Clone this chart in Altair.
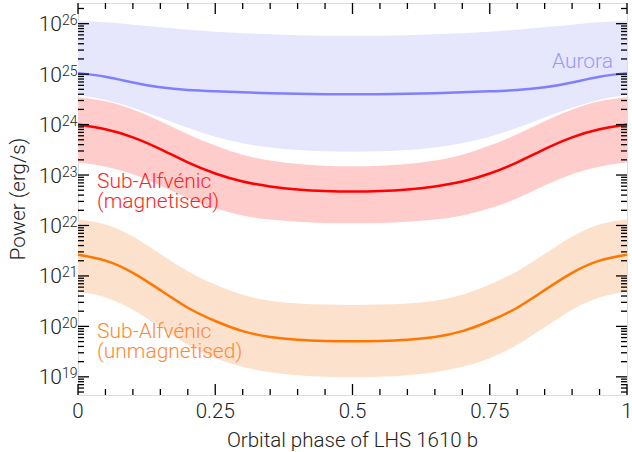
import altair as alt
import pandas as pd

# phase grid (first half; mirrored for the second half)
phase_half = [0.0, 0.05, 0.10, 0.15, 0.20, 0.25, 0.30, 0.35, 0.40, 0.45, 0.50]

# log10(power [erg/s])
aurora_line = [25.02, 24.96, 24.83, 24.73, 24.68, 24.66, 24.64, 24.62, 24.61, 24.60, 24.60]
aurora_hi   = [26.06, 26.03, 25.98, 25.93, 25.88, 25.84, 25.81, 25.79, 25.77, 25.76, 25.76]
aurora_lo   = [24.59, 24.50, 24.34, 24.14, 23.93, 23.75, 23.62, 23.54, 23.49, 23.47, 23.46]

mag_line = [24.00, 23.92, 23.76, 23.52, 23.24, 23.02, 22.86, 22.77, 22.71, 22.68, 22.67]
mag_hi   = [24.54, 24.48, 24.31, 24.07, 23.80, 23.58, 23.39, 23.28, 23.21, 23.18, 23.17]
mag_lo   = [23.25, 23.18, 23.03, 22.80, 22.53, 22.33, 22.19, 22.11, 22.07, 22.05, 22.04]

unmag_line = [21.42, 21.33, 21.08, 20.72, 20.35, 20.10, 19.89, 19.78, 19.73, 19.71, 19.70]
unmag_hi   = [22.12, 22.05, 21.80, 21.43, 21.08, 20.82, 20.61, 20.50, 20.45, 20.43, 20.42]
unmag_lo   = [20.69, 20.60, 20.35, 19.98, 19.62, 19.35, 19.19, 19.08, 19.03, 19.00, 18.99]

series_names = ["Aurora", "Sub-Alfvénic (magnetised)", "Sub-Alfvénic (unmagnetised)"]
line_colors = ["#8080ff", "#ff0000", "#ff7700"]
band_colors = ["#e6e6fd", "#ffcccc", "#fce2cd"]
label_colors = ["#9a9af7", "#ff1f1f", "#ff8833"]

x_tick_values = [0, 0.25, 0.5, 0.75, 1]
x_tick_labels = ["0", "0.25", "0.5", "0.75", "1"]
x_minor = [round(0.05 * i, 2) for i in range(21)]
y_exponents = list(range(19, 27))

YMIN, YMAX = 10 ** 18.64, 10 ** 26.41
W, H = 549, 392
FONT = "Roboto"
FS = 20.5


def mirror(vals):
    return vals + vals[-2::-1]


phase = phase_half + [round(1 - p, 2) for p in phase_half[-2::-1]]

rows = []
for name, ln, hi, lo in zip(series_names,
                            [aurora_line, mag_line, unmag_line],
                            [aurora_hi, mag_hi, unmag_hi],
                            [aurora_lo, mag_lo, unmag_lo]):
    for p, a, b, c in zip(phase, mirror(ln), mirror(hi), mirror(lo)):
        rows.append({"series": name, "phase": p, "line": 10 ** a, "hi": 10 ** b, "lo": 10 ** c})
df = pd.DataFrame(rows)

xs = alt.Scale(domain=[0, 1], nice=False, zero=False)
ys = alt.Scale(type="log", domain=[YMIN, YMAX], nice=False)

X = alt.X("phase:Q", scale=xs, axis=None)

layers = []
for name, lc, bc in zip(series_names, line_colors, band_colors):
    sub = alt.Chart(df).transform_filter(alt.datum.series == name)
    layers.append(sub.mark_area(color=bc, opacity=1, interpolate="basis").encode(
        x=X, y=alt.Y("lo:Q", scale=ys, axis=None), y2="hi:Q"))
for name, lc, bc in zip(series_names, line_colors, band_colors):
    sub = alt.Chart(df).transform_filter(alt.datum.series == name)
    layers.append(sub.mark_line(color=lc, strokeWidth=2.5, interpolate="basis").encode(
        x=X, y=alt.Y("line:Q", scale=ys, axis=None)))

# tick marks (inward, all four sides)
ymaj = pd.DataFrame({"v": [10.0 ** e for e in y_exponents], "e": [str(e) for e in y_exponents]})
ymin_vals = [m * 10.0 ** e for e in range(18, 27) for m in range(2, 10)]
ymin_vals = [v for v in ymin_vals if YMIN <= v <= YMAX]
ymin_df = pd.DataFrame({"v": ymin_vals})
xmaj = pd.DataFrame({"p": x_tick_values, "lab": x_tick_labels})
xmin_df = pd.DataFrame({"p": [p for p in x_minor if p not in x_tick_values]})

Yv = alt.Y("v:Q", scale=ys, axis=None)
Xp = alt.X("p:Q", scale=xs, axis=None)
tk = dict(color="black", strokeWidth=1.3)
for x0, x1, d in [(0, 11, ymaj), (W - 11, W, ymaj), (0, 6, ymin_df), (W - 6, W, ymin_df)]:
    layers.append(alt.Chart(d).mark_rule(**tk).encode(y=Yv, x=alt.value(x0), x2=alt.value(x1)))
for y0, y1, d in [(H - 11, H, xmaj), (0, 11, xmaj), (H - 6, H, xmin_df), (0, 6, xmin_df)]:
    layers.append(alt.Chart(d).mark_rule(**tk).encode(x=Xp, y=alt.value(y0), y2=alt.value(y1)))

# tick labels
layers.append(alt.Chart(ymaj).mark_text(text="10", align="right", baseline="alphabetic", dy=7.5,
                                        fontSize=21, font=FONT, fontWeight=300, color="#222")
              .encode(y=Yv, x=alt.value(-16)))
layers.append(alt.Chart(ymaj).mark_text(align="left", baseline="alphabetic", dy=1.5,
                                        fontSize=14, font=FONT, fontWeight=300, color="#222")
              .encode(y=Yv, x=alt.value(-16), text="e:N"))
layers.append(alt.Chart(xmaj).mark_text(align="center", baseline="alphabetic",
                                        fontSize=FS, font=FONT, fontWeight=300, color="#222")
              .encode(x=Xp, y=alt.value(H + 23), text="lab:N"))

# axis titles
layers.append(alt.Chart(pd.DataFrame({"t": ["Orbital phase of LHS 1610 b"]})).mark_text(
    align="center", baseline="alphabetic", fontSize=FS, font=FONT, fontWeight=300, color="#222")
    .encode(x=alt.value(W / 2), y=alt.value(H + 52), text="t:N"))
layers.append(alt.Chart(pd.DataFrame({"t": ["Power (erg/s)"]})).mark_text(
    align="center", baseline="alphabetic", angle=270, fontSize=FS, font=FONT, fontWeight=300, color="#222")
    .encode(x=alt.value(-53), y=alt.value(H / 2), text="t:N"))

# annotations
ann_text = ["Aurora", "Sub-Alfvénic", "(magnetised)", "Sub-Alfvénic", "(unmagnetised)"]
ann_x = [535, 19, 19, 19, 19]
ann_y = [65, 185, 205, 335, 355]
ann_c = [label_colors[0], label_colors[1], label_colors[1], label_colors[2], label_colors[2]]
ann_a = ["right", "left", "left", "left", "left"]
for t, x, y, c, a in zip(ann_text, ann_x, ann_y, ann_c, ann_a):
    layers.append(alt.Chart(pd.DataFrame({"t": [t]})).mark_text(
        align=a, baseline="alphabetic", fontSize=21, font=FONT, fontWeight=300, color=c)
        .encode(x=alt.value(x), y=alt.value(y), text="t:N"))

chart = alt.layer(*layers).properties(
    width=W, height=H,
    autosize=alt.AutoSizeParams(type="none"),
    padding={"left": 78, "top": 3, "right": 5, "bottom": 57},
).configure_view(stroke="black", strokeWidth=1.6).configure(background="white")

chart.save("out.html", embed_options={"renderer": "svg", "actions": False})
